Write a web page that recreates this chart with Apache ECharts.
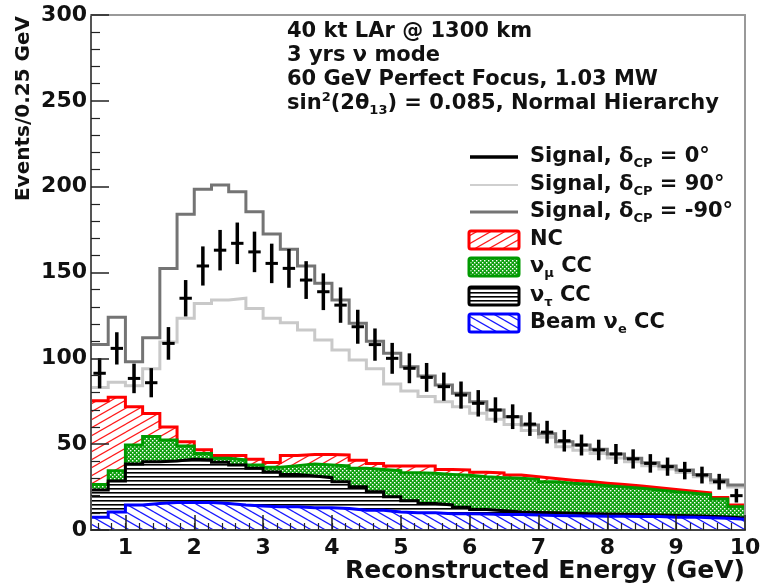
<!DOCTYPE html>
<html>
<head>
<meta charset="utf-8">
<script src="https://cdn.jsdelivr.net/npm/echarts@6/dist/echarts.min.js"></script>
<style>html,body{margin:0;padding:0;background:#fff}#c{width:765px;height:587px}</style>
</head>
<body>
<div id="c"></div>
<script>
// ---------------- data (events per 0.25 GeV bin) ----------------
const binLowEdges = [0.5,0.75,1,1.25,1.5,1.75,2,2.25,2.5,2.75,3,3.25,3.5,3.75,4,4.25,4.5,4.75,5,5.25,
  5.5,5.75,6,6.25,6.5,6.75,7,7.25,7.5,7.75,8,8.25,8.5,8.75,9,9.25,9.5,9.75];
const binWidth = 0.25;
const xMin = 0.5, xMax = 10;

// background components (stacked, bottom to top)
const beamNueCC = [7.5,10.5,14.5,15.5,16,16,16,15.5,14.5,14,13.5,13.5,13,13,12.5,11.5,11.5,10.5,10,10,
  9.5,9.5,9.3,9,9,8.7,8.5,8.3,8.2,8,8,7.8,7.8,7.5,7.5,7.2,6.8,6.3];
const nutauCC = [15.8,18,23.9,24.3,24.2,25.2,24.8,23.9,23.4,21.9,20.3,18.9,18.5,17.5,15.6,13.7,10.8,8.9,7.1,5.5,
  5.1,3.7,2.7,2.2,1.5,1.5,1.5,1.5,1.3,1.3,1.2,1.2,1,1,0.8,0.8,0.8,0.7];
const numuCC = [3.2,6,11.1,14.7,12.2,7.8,3.7,2.4,2.9,2,2.7,5.1,7,7.4,9.2,10.7,13,15.2,16.3,17.5,
  17.8,18.7,19,19.3,19.6,19.3,18.1,17.4,17.1,16.5,15.8,15.3,14.5,13.8,13.1,12.6,10.4,6.5];
const ncBkg = [48.8,42.8,22.3,13.3,7.6,2.4,2.3,1.6,2.6,3.3,2.8,5.9,5.5,6.1,6.4,4.7,3.5,2.7,3.9,4.3,
  2.9,3.1,2.6,2.7,1.9,1.5,1.9,1.8,1.6,1.5,1.5,1.3,1.3,1.3,1.2,1.1,1,1];

// signal + background totals
const signalDcpM90Total = [108,124,98,112,152.4,184,198.5,201,197,185.4,172.4,163.5,153.8,143.7,134,120.4,110,103,95.1,89.7,
  84.5,79.6,74.7,69.9,66,61.2,56,51.4,49.5,47,44.3,41.8,39.2,37.3,35,32.4,29.1,26.2];
const signalDcp90Total = [83,86,84,94,109.5,123.3,132,134,135,129,123.3,120.7,116.5,110.7,104.8,99,94,85,81,77.7,
  74.7,71.8,68,64.5,61.5,58,54,48.5,46.5,44.5,42,39.8,37.5,35.5,33.5,31,27.5,25];
const signalDcp0Total = [91.3,105.8,88.3,85.8,108.7,135,153.8,163,167,162,155.3,152.4,145.6,138.8,131,118.4,108,100,94.2,88.9,
  83.5,78.6,73.8,69.9,66,61.7,57,52,49.5,46.6,44.3,41.4,38.8,36.9,34.6,32,28.1,20];
const signalDcp0Err = [8.8,9.4,8.6,8.5,9.5,10.6,11.4,11.8,12.1,11.8,11.5,11.3,11,10.7,10.3,9.9,9.4,9,8.7,8.4,
  8.2,7.9,7.7,7.4,7.2,6.9,6.6,6.3,6.1,6,5.8,5.6,5.4,5.3,5.1,4.9,4.6,4];

// axis ticks
const xMajorTicks = [1,2,3,4,5,6,7,8,9,10];
const xMinorTicks = [];
for (let k = 3; k <= 49; k++) xMinorTicks.push(Math.round(k * 0.2 * 10) / 10);

// ---------------- styling helpers ----------------
const FONT = 'DejaVu Sans';
function makePattern(w, h, draw) {
  const c = document.createElement('canvas');
  c.width = w; c.height = h;
  const g = c.getContext('2d');
  draw(g, w, h);
  return { image: c, repeat: 'repeat' };
}
function hatch(color, lw, dir) {
  return makePattern(14, 8, (g, w, h) => {
    g.fillStyle = '#fff'; g.fillRect(0, 0, w, h);
    g.strokeStyle = color; g.lineWidth = lw;
    for (let dx = -w; dx <= w; dx += w) for (let dy = -h; dy <= h; dy += h) {
      g.beginPath();
      if (dir > 0) { g.moveTo(dx, h + dy); g.lineTo(dx + w, dy); }
      else { g.moveTo(dx, dy); g.lineTo(dx + w, dy + h); }
      g.stroke();
    }
  });
}
const ncPat = hatch('#ff1a1a', 1.2, 1);
const nuePat = hatch('#1a1aff', 1.3, -1);
const tauPat = makePattern(4, 4, (g, w, h) => {
  g.fillStyle = '#fff'; g.fillRect(0, 0, w, h);
  g.fillStyle = '#000'; g.fillRect(0, 0, w, 1.6);
});
const numuPat = makePattern(4, 4, (g, w, h) => {
  g.fillStyle = '#10a010'; g.fillRect(0, 0, w, h);
  g.fillStyle = '#ffffff';
  g.fillRect(0, 0, 1.4, 1.4); g.fillRect(2, 2, 1.4, 1.4);
});

function stepData(arr) {
  const d = binLowEdges.map((e, i) => [e, arr[i]]);
  d.push([xMax, arr[arr.length - 1]]);
  return d;
}
// cumulative stack (THStack style): each layer drawn from 0 with an opaque fill, top layer first
function cumulate(list) {
  const out = []; let run = list[0].map(() => 0);
  list.forEach(a => { run = run.map((v, i) => v + a[i]); out.push(run.slice()); });
  return out;
}
const bkgComponents = [beamNueCC, nutauCC, numuCC, ncBkg];
const bkgTops = cumulate(bkgComponents);

const bkg = [
  { name: 'Beam νe CC', top: bkgTops[0], color: '#0000ff', pat: nuePat, z: 5 },
  { name: 'ντ CC', top: bkgTops[1], color: '#000000', pat: tauPat, z: 4 },
  { name: 'νμ CC', top: bkgTops[2], color: '#009a00', pat: numuPat, z: 3 },
  { name: 'NC', top: bkgTops[3], color: '#ff0000', pat: ncPat, z: 2 }
];

const series = bkg.map(b => ({
  type: 'line', name: b.name, step: 'end',
  data: stepData(b.top), symbol: 'none', showSymbol: false,
  lineStyle: { color: b.color, width: 3, join: 'miter' },
  itemStyle: { color: b.color },
  areaStyle: { color: b.pat, opacity: 1, origin: 'start' },
  z: b.z, animation: false
}));
series.push({
  type: 'line', name: 'Signal, δCP = 90°', step: 'end', data: stepData(signalDcp90Total),
  symbol: 'none', lineStyle: { color: '#c9c9c9', width: 3, join: 'miter' }, z: 6, animation: false
});
series.push({
  type: 'line', name: 'Signal, δCP = -90°', step: 'end', data: stepData(signalDcpM90Total),
  symbol: 'none', lineStyle: { color: '#747474', width: 3, join: 'miter' }, z: 7, animation: false
});
series.push({
  type: 'custom', name: 'Signal, δCP = 0°', z: 8, animation: false,
  encode: { x: 0, y: 1 },
  data: binLowEdges.map((e, i) => [e + binWidth / 2, signalDcp0Total[i], signalDcp0Err[i]]),
  renderItem: function (params, api) {
    const x = api.value(0), y = api.value(1), err = api.value(2);
    const c = api.coord([x, y]);
    const top = api.coord([x, y + err]);
    const bot = api.coord([x, y - err]);
    const half = api.size([binWidth, 0])[0] * 0.36;
    return {
      type: 'group', children: [
        { type: 'line', shape: { x1: c[0], y1: top[1], x2: c[0], y2: bot[1] }, style: { stroke: '#000', lineWidth: 3.5 } },
        { type: 'line', shape: { x1: c[0] - half, y1: c[1], x2: c[0] + half, y2: c[1] }, style: { stroke: '#000', lineWidth: 3 } }
      ]
    };
  }
});

// ---------------- text / legend graphics ----------------
const baseRich = {
  sub: { fontSize: 13, lineHeight: 12, verticalAlign: 'bottom', fontWeight: 'bold', fontFamily: FONT, fill: '#111' },
  sup: { fontSize: 13, lineHeight: 14, verticalAlign: 'top', fontWeight: 'bold', fontFamily: FONT, fill: '#111' }
};
function label(x, y, text, size, extra) {
  return {
    type: 'text', x: x, y: y, z: 100,
    style: Object.assign({
      text: text, fontSize: size, fontWeight: 'bold', fontFamily: FONT, fill: '#111',
      verticalAlign: 'middle', align: 'left', lineHeight: 26, rich: baseRich
    }, extra || {})
  };
}
const headerLines = [
  '40 kt LAr @ 1300 km',
  '3 yrs ν mode',
  '60 GeV Perfect Focus, 1.03 MW',
  'sin{sup|2}(2θ{sub|13}) = 0.085, Normal Hierarchy'
];
const legendItems = [
  { kind: 'line', color: '#000', width: 3.5, text: 'Signal, δ{sub|CP} = 0°' },
  { kind: 'line', color: '#cfcfcf', width: 2, text: 'Signal, δ{sub|CP} = 90°' },
  { kind: 'line', color: '#747474', width: 3, text: 'Signal, δ{sub|CP} = -90°' },
  { kind: 'box', color: '#ff0000', pat: ncPat, text: 'NC' },
  { kind: 'box', color: '#009a00', pat: numuPat, text: 'ν{sub|μ} CC' },
  { kind: 'box', color: '#000000', pat: tauPat, text: 'ν{sub|τ} CC' },
  { kind: 'box', color: '#0000ff', pat: nuePat, text: 'Beam ν{sub|e} CC' }
];
const legendY = [157, 185, 212, 240, 267, 296, 323];

const graphics = [];
headerLines.forEach((t, i) => graphics.push(label(287, 32 + i * 24, t, 21)));
legendItems.forEach((it, i) => {
  const y = legendY[i];
  if (it.kind === 'line') {
    graphics.push({ type: 'line', z: 100, shape: { x1: 470, y1: y, x2: 518, y2: y }, style: { stroke: it.color, lineWidth: it.width } });
  } else {
    graphics.push({ type: 'rect', z: 100, shape: { x: 469, y: y - 9, width: 50, height: 18, r: 2 }, style: { fill: it.pat, stroke: it.color, lineWidth: 3 } });
  }
  graphics.push(label(530, y, it.text, 21));
});
graphics.push({
  type: 'text', x: 24, y: 16, rotation: Math.PI / 2, z: 100,
  style: { text: 'Events/0.25 GeV', fontSize: 20, fontWeight: 'bold', fontFamily: FONT, fill: '#111', align: 'right', verticalAlign: 'middle' }
});
graphics.push({
  type: 'text', x: 745, y: 571, z: 100,
  style: { text: 'Reconstructed Energy (GeV)', fontSize: 25, fontWeight: 'bold', fontFamily: FONT, fill: '#111', align: 'right', verticalAlign: 'middle' }
});

// ---------------- chart ----------------
const chart = echarts.init(document.getElementById('c'), null, { renderer: 'canvas', width: 765, height: 587 });
const labelStyle = { fontSize: 22, fontWeight: 'bold', fontFamily: FONT, color: '#111' };
chart.setOption({
  animation: false,
  backgroundColor: '#fff',
  grid: { left: 91, right: 20, top: 15, bottom: 57, show: false },
  xAxis: [
    {
      type: 'value', min: xMin, max: xMax, position: 'bottom', z: 10,
      axisLine: { show: true, onZero: false, lineStyle: { color: '#444', width: 2 } },
      axisTick: { show: true, inside: true, length: 15, customValues: xMajorTicks, lineStyle: { color: '#222', width: 1.5 } },
      axisLabel: Object.assign({ customValues: xMajorTicks, margin: 7 }, labelStyle),
      splitLine: { show: false }
    },
    {
      type: 'value', min: xMin, max: xMax, position: 'bottom', z: 10,
      axisLine: { show: false },
      axisTick: { show: true, inside: true, length: 7, customValues: xMinorTicks, lineStyle: { color: '#222', width: 1.2 } },
      axisLabel: { show: false }, splitLine: { show: false }
    },
    {
      type: 'value', min: xMin, max: xMax, position: 'top', z: 10,
      axisLine: { show: true, onZero: false, lineStyle: { color: '#999', width: 2 } },
      axisTick: { show: false }, axisLabel: { show: false }, splitLine: { show: false }
    }
  ],
  yAxis: [
    {
      type: 'value', min: 0, max: 300, interval: 50, position: 'left', z: 10,
      axisLine: { show: true, onZero: false, lineStyle: { color: '#555', width: 2 } },
      axisTick: { show: true, inside: true, length: 18, lineStyle: { color: '#222', width: 1.5 } },
      minorTick: { show: true, splitNumber: 5, length: 9, lineStyle: { color: '#222', width: 1.2 } },
      axisLabel: Object.assign({ margin: 4 }, labelStyle),
      splitLine: { show: false }, minorSplitLine: { show: false }
    },
    {
      type: 'value', min: 0, max: 300, position: 'right', z: 10,
      axisLine: { show: true, onZero: false, lineStyle: { color: '#999', width: 2 } },
      axisTick: { show: false }, axisLabel: { show: false }, splitLine: { show: false }
    }
  ],
  series: series.map(s => Object.assign({ xAxisIndex: 0, yAxisIndex: 0 }, s)),
  graphic: graphics
});
</script>
</body>
</html>
